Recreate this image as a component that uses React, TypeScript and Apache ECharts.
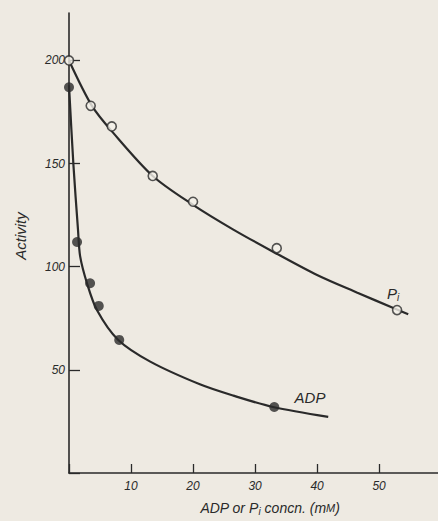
import React, { useEffect, useRef } from "react";
import * as echarts from "echarts";

const piPoints: [number, number][] = [
  [0, 200], [3.5, 178], [6.9, 168], [13.5, 144], [20, 131.5], [33.5, 109], [52.9, 79],
];
const adpPoints: [number, number][] = [
  [0, 187], [1.3, 112], [3.4, 92], [4.8, 81], [8.1, 64.5], [33.1, 32],
];
const piCurve: [number, number][] = [
  [0, 200], [3.7, 178], [7.1, 165], [13.5, 144], [20, 130], [26.5, 118], [32.9, 107.3],
  [40, 96], [46.5, 87.4], [52.3, 80], [54.7, 77],
];
const adpCurve: [number, number][] = [
  [0, 188], [0.7, 150], [1.45, 118], [1.8, 105], [2.9, 92], [4.5, 79], [7.9, 64.6],
  [13.1, 54], [21.1, 43], [26.5, 37.5], [32.9, 32], [41.8, 27.2],
];
const xTicks = [10, 20, 30, 40, 50];
const yTicks = [50, 100, 150, 200];

const INK = "#2a2a2a";
const BG = "#eeeae2";

export default function App() {
  const ref = useRef<HTMLDivElement>(null);
  useEffect(() => {
    if (!ref.current) return;
    const chart = echarts.init(ref.current, null, { renderer: "svg" });
    chart.setOption({
      animation: false,
      backgroundColor: BG,
      grid: { left: 69, right: 0, top: 13, bottom: 48 },
      xAxis: {
        type: "value",
        min: 0,
        max: 59.5,
        interval: 10,
        splitLine: { show: false },
        axisLine: { lineStyle: { color: INK, width: 1.6 } },
        axisTick: { inside: true, length: 9, lineStyle: { color: INK, width: 1.3 } },
        axisLabel: {
          color: INK,
          fontSize: 12,
          fontStyle: "italic",
          fontFamily: "Liberation Sans",
          margin: 7,
          showMaxLabel: false,
          formatter: (v: number) => (xTicks.includes(v) ? String(v) : ""),
        },
      },
      yAxis: {
        type: "value",
        min: 0,
        max: 223,
        interval: 50,
        splitLine: { show: false },
        axisLine: { lineStyle: { color: INK, width: 1.6 } },
        axisTick: { inside: true, length: 11, lineStyle: { color: INK, width: 1.3 } },
        axisLabel: {
          color: INK,
          fontSize: 12,
          fontStyle: "italic",
          fontFamily: "Liberation Sans",
          margin: 4,
          showMaxLabel: false,
          formatter: (v: number) => (yTicks.includes(v) ? String(v) : ""),
        },
      },
      graphic: [
        {
          type: "text",
          x: 20,
          y: 236,
          rotation: Math.PI / 2,
          style: {
            text: "Activity",
            fill: INK,
            fontSize: 15,
            fontStyle: "italic",
            fontFamily: "Liberation Sans",
            align: "center",
            verticalAlign: "middle",
          },
        },
        {
          type: "text",
          x: 270,
          y: 508,
          style: {
            text: "ADP or P{s|i} concn. (m{sc|M})",
            fill: INK,
            fontSize: 14,
            fontStyle: "italic",
            fontFamily: "Liberation Sans",
            align: "center",
            verticalAlign: "middle",
            rich: {
              s: { fontSize: 10, fontStyle: "italic", fill: INK, verticalAlign: "bottom", padding: [6, 0, 0, 0] },
              sc: { fontSize: 11, fontStyle: "italic", fill: INK },
            },
          },
        },
        {
          type: "text",
          x: 393,
          y: 293,
          style: {
            text: "P{s|i}",
            fill: INK,
            fontSize: 15,
            fontStyle: "italic",
            fontFamily: "Liberation Sans",
            align: "center",
            verticalAlign: "middle",
            rich: {
              s: { fontSize: 10, fontStyle: "italic", fill: INK, padding: [8, 0, 0, 0] },
            },
          },
        },
        {
          type: "text",
          x: 310,
          y: 397,
          style: {
            text: "ADP",
            fill: INK,
            fontSize: 15,
            fontStyle: "italic",
            fontFamily: "Liberation Sans",
            align: "center",
            verticalAlign: "middle",
          },
        },
      ],
      series: [
        {
          type: "line",
          data: piCurve,
          smooth: 0.3,
          showSymbol: false,
          lineStyle: { color: INK, width: 2.2 },
          z: 2,
        },
        {
          type: "line",
          data: adpCurve,
          smooth: 0.3,
          showSymbol: false,
          lineStyle: { color: INK, width: 2.2 },
          z: 2,
        },
        {
          type: "scatter",
          data: piPoints,
          symbol: "circle",
          symbolSize: 9,
          itemStyle: { color: "#f4f1ea", borderColor: INK, borderWidth: 1.6 },
          z: 3,
        },
        {
          type: "scatter",
          data: adpPoints,
          symbol: "circle",
          symbolSize: 10,
          itemStyle: { color: INK },
          z: 3,
        },
      ],
    });
    return () => chart.dispose();
  }, []);
  return <div ref={ref} style={{ width: 438, height: 521, position: "absolute", left: 0, top: 0 }} />;
}
